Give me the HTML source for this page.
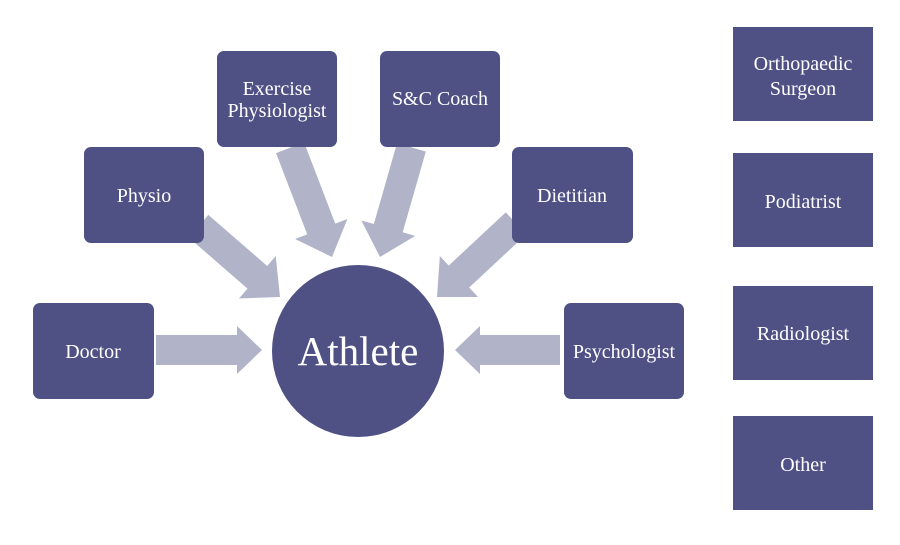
<!DOCTYPE html>
<html><head><style>
html,body{margin:0;padding:0;background:#fff;}
svg{display:block;}
text{font-family:"Liberation Serif",serif;fill:#fff;}
</style></head><body>
<svg width="900" height="545" viewBox="0 0 900 545" xmlns="http://www.w3.org/2000/svg">
<rect width="900" height="545" fill="#fff"/>
<g transform="translate(262,350)"><polygon points="0,0 -25,-24 -25,-15 -106,-15 -106,15 -25,15 -25,24" fill="#b1b3c8"/></g>
<g transform="translate(455,350) rotate(180)"><polygon points="0,0 -25,-24 -25,-15 -105,-15 -105,15 -25,15 -25,24" fill="#b1b3c8"/></g>
<g transform="translate(332,257) rotate(69)"><polygon points="0,0 -30,-28 -30,-15 -117,-15 -117,15 -30,15 -30,28" fill="#b1b3c8"/></g>
<g transform="translate(380,257) rotate(106)"><polygon points="0,0 -30,-28 -30,-15 -114,-15 -114,15 -30,15 -30,28" fill="#b1b3c8"/></g>
<g transform="translate(280,297) rotate(41)"><polygon points="0,0 -30,-28 -30,-15 -108,-15 -108,15 -30,15 -30,28" fill="#b1b3c8"/></g>
<g transform="translate(437,297) rotate(137)"><polygon points="0,0 -30,-28 -30,-15 -108,-15 -108,15 -30,15 -30,28" fill="#b1b3c8"/></g>
<g fill="#4f5185">
<rect x="217" y="51" width="120" height="96" rx="7"/>
<rect x="380" y="51" width="120" height="96" rx="7"/>
<rect x="84" y="147" width="120" height="96" rx="7"/>
<rect x="512" y="147" width="121" height="96" rx="7"/>
<rect x="33" y="303" width="121" height="96" rx="7"/>
<rect x="564" y="303" width="120" height="96" rx="7"/>
<circle cx="358" cy="351" r="86"/>
<rect x="733" y="27" width="140" height="94"/>
<rect x="733" y="153" width="140" height="94"/>
<rect x="733" y="286" width="140" height="94"/>
<rect x="733" y="416" width="140" height="94"/>
</g>
<g font-size="20" text-anchor="middle">
<text x="277" y="95">Exercise</text>
<text x="277" y="117">Physiologist</text>
<text x="440" y="105">S&amp;C Coach</text>
<text x="144" y="202">Physio</text>
<text x="572" y="202">Dietitian</text>
<text x="93" y="358">Doctor</text>
<text x="624" y="358">Psychologist</text>
<text x="803" y="70">Orthopaedic</text>
<text x="803" y="95">Surgeon</text>
<text x="803" y="208">Podiatrist</text>
<text x="803" y="340">Radiologist</text>
<text x="803" y="471">Other</text>
<text x="358" y="365" font-size="41">Athlete</text>
</g>
</svg>
</body></html>
